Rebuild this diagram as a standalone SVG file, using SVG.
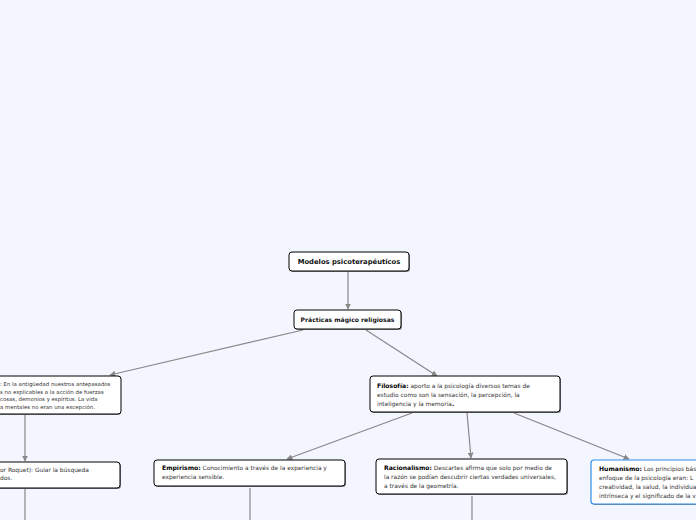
<svg xmlns="http://www.w3.org/2000/svg" width="696" height="520" viewBox="0 0 696 520">
<defs>
<style>
.n{fill:#fff;stroke:#000;stroke-width:1;}
.nb{fill:#fff;stroke:#2a8ee8;stroke-width:1.2;}
.sh{fill:#444;opacity:0.6;}
.t{font-family:"DejaVu Sans",Verdana,sans-serif;fill:#111;}
.h{font-size:6.8px;font-weight:bold;}
.h2{font-size:6.1px;font-weight:bold;}
.b{font-size:5.9px;fill:#333;}
.bb{font-size:6.1px;font-weight:bold;fill:#000;}
.s{font-size:5.4px;fill:#333;}
.e{stroke:#888;stroke-width:1.2;fill:none;}
</style>
<marker id="ar" viewBox="0 0 10 10" refX="9" refY="5" markerWidth="6" markerHeight="6" markerUnits="userSpaceOnUse" orient="auto">
<path d="M0,0 L10,5 L0,10 z" fill="#888"/>
</marker>
</defs>
<rect width="696" height="520" fill="#f3f6fe"/>
<g id="connectors">
<line class="e" x1="348" y1="272" x2="348" y2="309" marker-end="url(#ar)"/>
<line class="e" x1="303" y1="330" x2="110" y2="375" marker-end="url(#ar)"/>
<line class="e" x1="366" y1="330" x2="437" y2="376" marker-end="url(#ar)"/>
<line class="e" x1="25" y1="415" x2="25" y2="461" marker-end="url(#ar)"/>
<line class="e" x1="412" y1="413" x2="287" y2="459" marker-end="url(#ar)"/>
<line class="e" x1="467" y1="413" x2="471" y2="458" marker-end="url(#ar)"/>
<line class="e" x1="514" y1="413" x2="629" y2="459" marker-end="url(#ar)"/>
<line class="e" x1="25" y1="489" x2="25" y2="520"/>
<line class="e" x1="250" y1="488" x2="250" y2="520"/>
<line class="e" x1="472" y1="496" x2="472" y2="520"/>
</g>
<g id="n-modelos">
<rect class="sh" x="290" y="253" width="120" height="19" rx="3"/>
<rect class="n" x="289" y="252" width="120" height="19" rx="3"/>
<text class="t h" x="349" y="264" text-anchor="middle">Modelos psicoterapéuticos</text>
</g>
<g id="n-practicas">
<rect class="sh" x="295" y="311" width="107" height="19" rx="3"/>
<rect class="n" x="294" y="310" width="107" height="19" rx="3"/>
<text class="t h2" x="347.5" y="322" text-anchor="middle">Prácticas mágico religiosas</text>
</g>
<g id="n-magia">
<rect class="sh" x="-9" y="377" width="130" height="38" rx="3"/>
<rect class="n" x="-10" y="376" width="131" height="38" rx="3"/>
<text class="t s" x="0" y="386">: En la antigüedad nuestros antepasados</text>
<text class="t s" x="0" y="393.5">s no explicables a la acción de fuerzas</text>
<text class="t s" x="0" y="401">cosas, demonios y espíritus. La vida</text>
<text class="t s" x="0" y="408.5">a mentales no eran una excepción.</text>
</g>
<g id="n-filosofia">
<rect class="sh" x="371" y="377" width="190" height="36" rx="3"/>
<rect class="n" x="370" y="376" width="190" height="36" rx="3"/>
<text class="t b" x="377" y="388"><tspan class="bb">Filosofía:</tspan> aporto a la psicología diversos temas de</text>
<text class="t b" x="377" y="397">estudio como son la sensación, la percepción, la</text>
<text class="t b" x="377" y="406">inteligencia y la memoria<tspan class="bb">.</tspan></text>
</g>
<g id="n-roquet">
<rect class="sh" x="-9" y="463" width="130" height="26" rx="3"/>
<rect class="n" x="-10" y="462" width="130" height="26" rx="3"/>
<text class="t b" x="0" y="472">or Roquet): Guiar la búsqueda</text>
<text class="t b" x="0" y="480">dos.</text>
</g>
<g id="n-empirismo">
<rect class="sh" x="155" y="461" width="191" height="26" rx="3"/>
<rect class="n" x="154" y="460" width="191" height="26" rx="3"/>
<text class="t b" x="162" y="470"><tspan class="bb">Empirismo:</tspan> Conocimiento a través de la experiencia y</text>
<text class="t b" x="162" y="479">experiencia sensible.</text>
</g>
<g id="n-racionalismo">
<rect class="sh" x="377" y="460" width="191" height="35" rx="3"/>
<rect class="n" x="376" y="459" width="191" height="35" rx="3"/>
<text class="t b" x="384" y="470"><tspan class="bb">Racionalismo:</tspan> Descartes afirma que solo por medio de</text>
<text class="t b" x="384" y="479">la razón se podían descubrir ciertas verdades universales,</text>
<text class="t b" x="384" y="488">a través de la geometría.</text>
</g>
<g id="n-humanismo">
<rect class="sh" x="592" y="461" width="120" height="44" rx="3"/>
<rect class="nb" x="591" y="460" width="120" height="44" rx="3"/>
<text class="t b" x="599" y="471"><tspan class="bb">Humanismo:</tspan> Los principios bás</text>
<text class="t b" x="599" y="480">enfoque de la psicología eran: L</text>
<text class="t b" x="599" y="489">creatividad, la salud, la individua</text>
<text class="t b" x="599" y="498">intrínseca y el significado de la v</text>
</g>
</svg>
